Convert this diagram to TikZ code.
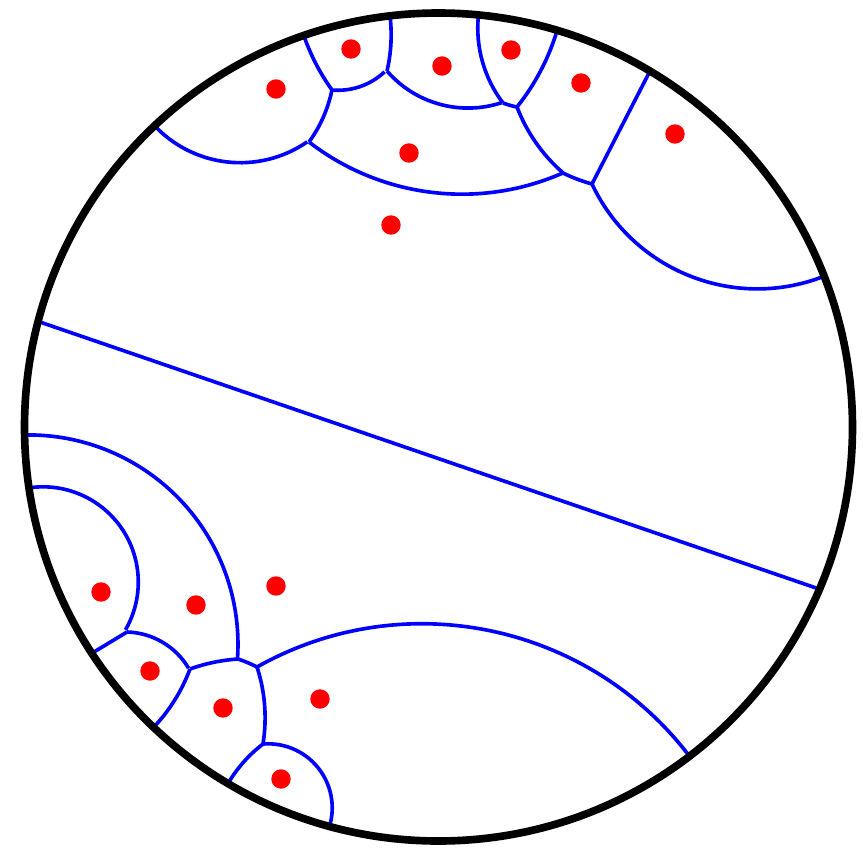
\documentclass[tikz,border=0pt]{standalone}
\usepackage{tikz}

% geodesic of the unit disk between two points given in picture pixels
\newcommand{\bisector}[4]{%
  \pgfmathsetmacro{\ga}{(#1-438.5)/414}%
  \pgfmathsetmacro{\gb}{(427-#2)/414}%
  \pgfmathsetmacro{\gc}{(#3-438.5)/414}%
  \pgfmathsetmacro{\gd}{(427-#4)/414}%
  \pgfmathsetmacro{\gdet}{(\ga)*(\gd)-(\gc)*(\gb)}%
  \pgfmathsetmacro{\gflat}{abs(\gdet)<0.02 ? 1 : 0}%
  \ifdim\gflat pt>0.5pt
    \draw[cell] (\ga,\gb) -- (\gc,\gd);
  \else
    \pgfmathsetmacro{\gk}{((\ga)*(\ga)+(\gb)*(\gb)+1)/2}%
    \pgfmathsetmacro{\gl}{((\gc)*(\gc)+(\gd)*(\gd)+1)/2}%
    \pgfmathsetmacro{\gx}{((\gk)*(\gd)-(\gl)*(\gb))/(\gdet)}%
    \pgfmathsetmacro{\gy}{((\ga)*(\gl)-(\gc)*(\gk))/(\gdet)}%
    \pgfmathsetmacro{\gr}{10*sqrt((\gx/10)*(\gx/10)+(\gy/10)*(\gy/10)-0.01)}%
    \pgfmathsetmacro{\gs}{atan2((\gb)-(\gy),(\ga)-(\gx))}%
    \pgfmathsetmacro{\gt}{atan2((\gd)-(\gy),(\gc)-(\gx))}%
    \pgfmathsetmacro{\gu}{((\gt)-(\gs)>180) ? (\gt)-360 : (((\gt)-(\gs)<-180) ? (\gt)+360 : (\gt))}%
    \draw[cell] (\ga,\gb) arc[start angle=\gs, end angle=\gu, radius=\gr];
  \fi}

\begin{document}
\begin{tikzpicture}[
    x=2cm, y=2cm,
    rim/.style={draw=black, line width=1.05pt},
    cell/.style={draw=blue, line width=0.5pt},
    site/.style={fill=red}
  ]
  \useasboundingbox (-1.0592,-1.0242) rectangle (1.0254,1.0314);

  % upper cells
  \bisector{153}{124}{309}{142}
  \bisector{309}{142}{332}{90}
  \bisector{332}{90}{303}{33}
  \bisector{332}{90}{387}{71}
  \bisector{387}{71}{390}{15}
  \bisector{387}{71}{503}{103}
  \bisector{503}{103}{478}{15}
  \bisector{503}{103}{517}{107}
  \bisector{517}{107}{557}{31}
  \bisector{517}{107}{563}{173}
  \bisector{309}{142}{563}{173}
  \bisector{563}{173}{592}{184}
  \bisector{592}{184}{650}{71}
  \bisector{592}{184}{823}{277}

  % lower cells
  \bisector{23}{435}{238}{659}
  \bisector{28}{488}{127}{632}
  \bisector{127}{632}{89}{655}
  \bisector{127}{632}{190}{669}
  \bisector{190}{669}{153}{728}
  \bisector{190}{669}{238}{659}
  \bisector{238}{659}{257}{667}
  \bisector{257}{667}{263}{744}
  \bisector{263}{744}{227}{785}
  \bisector{263}{744}{332}{829}
  \bisector{257}{667}{692}{759}

  % the long edge between the two groups
  \coordinate (west) at ({(37-438.5)/414},{(427-321)/414});
  \coordinate (east) at ({(822-438.5)/414},{(427-590)/414});
  \draw[cell] (west) -- (east);

  % sites
  \foreach \x/\y in {276/89, 351/49, 442/66, 511/50, 581/83, 675/134, 409/153, 391/225,
                     101/592, 196/605, 276/586, 150/671, 223/708, 320/699, 281/779}
    \fill[site] ({(\x-438.5)/414},{(427-\y)/414}) circle[radius=0.0235];

  \draw[rim] (0,0) circle[radius=1];
\end{tikzpicture}
\end{document}
